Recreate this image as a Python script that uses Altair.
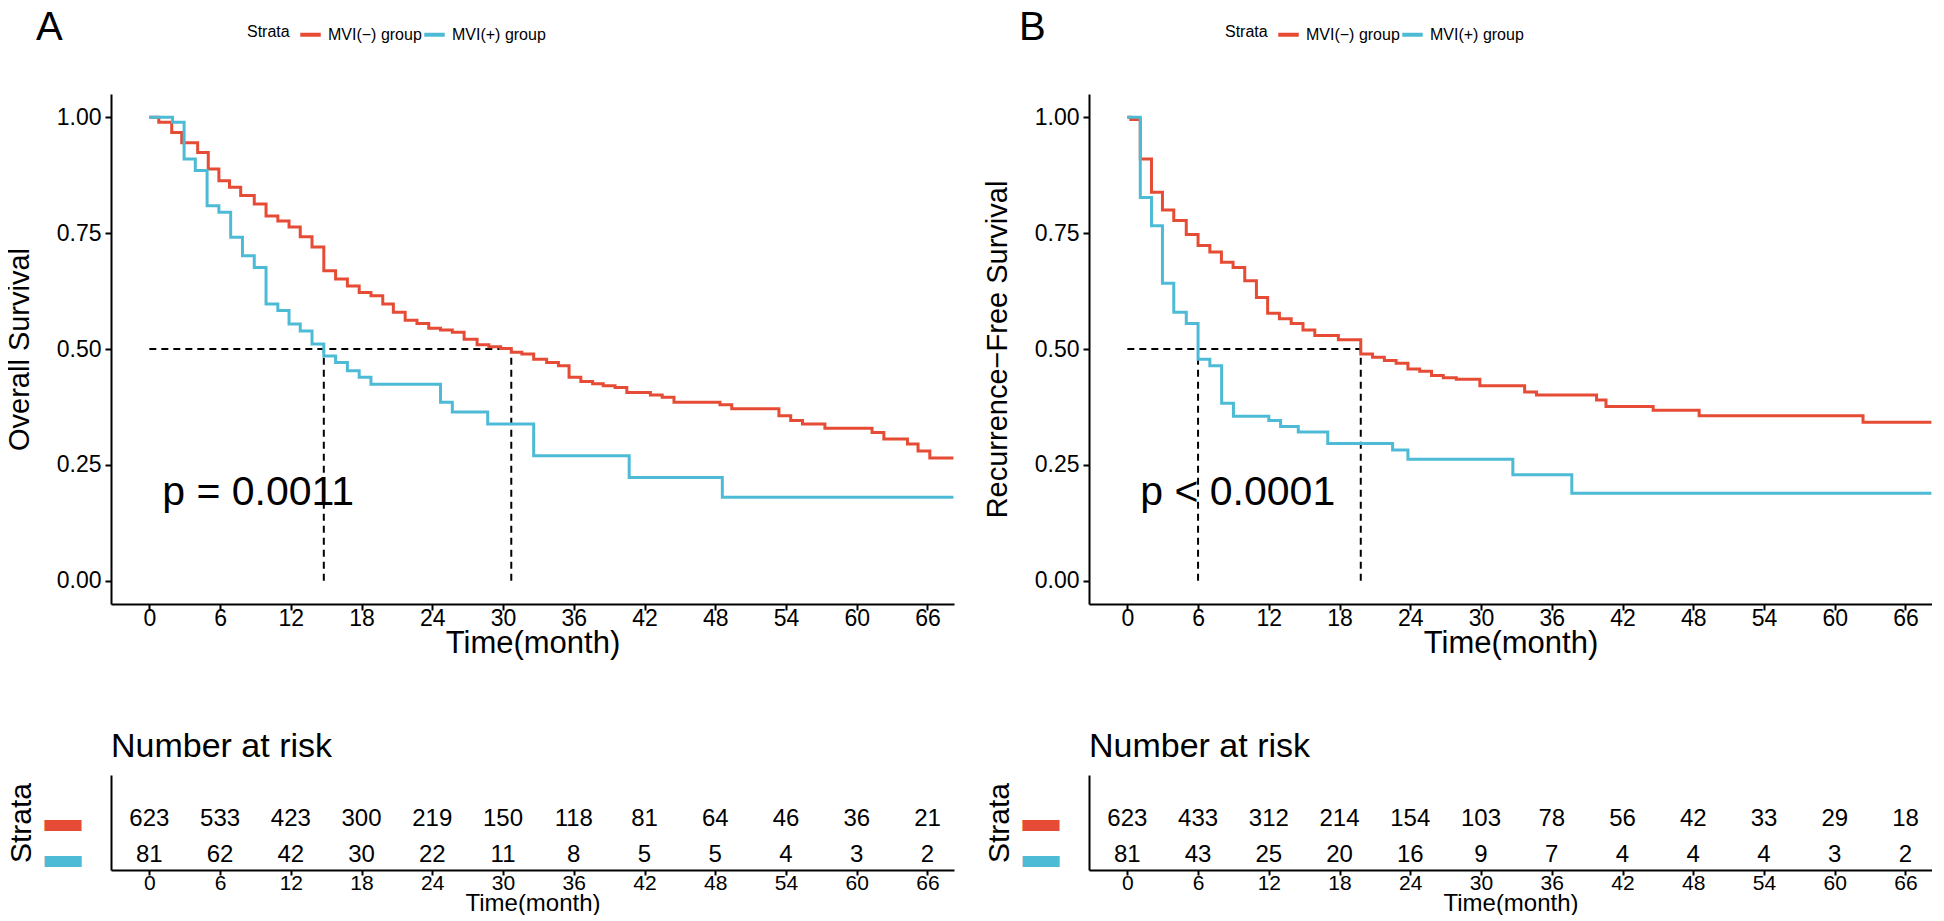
import altair as alt
import pandas as pd

GROUPS = ["MVI(−) group", "MVI(+) group"]
COLORS = ["#E64B35", "#4DBBD5"]
TICKS = [0, 6, 12, 18, 24, 30, 36, 42, 48, 54, 60, 66]
XDOM = [-3.25, 68.25]
FONT = "Liberation Sans"

# ---- Panel A: Overall survival ----
os_neg_t = [0, 0.8, 1.9, 2.75, 4.1, 5.0, 5.9, 6.8, 7.75, 8.9, 9.9, 10.9, 11.85, 12.8, 13.8,
            14.8, 15.8, 16.8, 17.8, 18.8, 19.8, 20.7, 21.7, 22.7, 23.7, 24.7, 25.7, 26.7,
            27.8, 28.8, 29.8, 30.7, 31.6, 32.6, 33.7, 34.7, 35.6, 36.6, 37.6, 38.5, 39.5,
            40.5, 42.5, 43.5, 44.5, 48.4, 49.4, 53.4, 54.4, 55.4, 57.3, 61.3, 62.3, 64.3,
            65.2, 66.2, 68.2]
os_neg_s = [1.0, 0.989, 0.967, 0.945, 0.924, 0.888, 0.863, 0.849, 0.831, 0.813, 0.787, 0.776,
            0.763, 0.742, 0.720, 0.669, 0.651, 0.636, 0.622, 0.615, 0.597, 0.579, 0.562, 0.555,
            0.545, 0.541, 0.536, 0.521, 0.509, 0.505, 0.501, 0.493, 0.489, 0.478, 0.471, 0.464,
            0.439, 0.430, 0.425, 0.421, 0.417, 0.406, 0.401, 0.396, 0.385, 0.380, 0.371, 0.356,
            0.346, 0.338, 0.329, 0.320, 0.306, 0.295, 0.280, 0.265, 0.265]
os_pos_t = [0, 1.97, 2.95, 3.9, 4.9, 5.9, 6.9, 7.9, 8.9, 9.9, 10.9, 11.85, 12.8, 13.8, 14.8,
            15.8, 16.8, 17.8, 18.8, 24.7, 25.7, 28.7, 32.6, 40.7, 48.6, 68.2]
os_pos_s = [1.0, 0.989, 0.910, 0.885, 0.809, 0.795, 0.741, 0.701, 0.676, 0.597, 0.583, 0.554,
            0.539, 0.511, 0.485, 0.471, 0.453, 0.439, 0.424, 0.385, 0.364, 0.338, 0.270, 0.223,
            0.180, 0.180]
os_medians = [14.8, 30.7]
os_risk_neg = [623, 533, 423, 300, 219, 150, 118, 81, 64, 46, 36, 21]
os_risk_pos = [81, 62, 42, 30, 22, 11, 8, 5, 5, 4, 3, 2]

# ---- Panel B: Recurrence-free survival ----
rfs_neg_t = [0, 0.3, 1.1, 2.05, 2.98, 3.94, 5.0, 6.0, 7.0, 7.98, 8.97, 9.96, 10.95, 11.9, 12.9,
             13.9, 14.9, 15.9, 17.9, 19.8, 20.8, 21.8, 22.8, 23.8, 24.8, 25.8, 26.8, 27.9, 29.9,
             33.7, 34.7, 39.8, 40.6, 44.6, 48.5, 62.4, 68.2]
rfs_neg_s = [1.0, 0.995, 0.910, 0.838, 0.800, 0.777, 0.747, 0.723, 0.709, 0.687, 0.676, 0.647,
             0.611, 0.577, 0.565, 0.555, 0.541, 0.529, 0.520, 0.489, 0.482, 0.475, 0.469, 0.457,
             0.452, 0.443, 0.438, 0.435, 0.421, 0.407, 0.401, 0.390, 0.376, 0.368, 0.356, 0.342,
             0.342]
rfs_pos_t = [0, 1.1, 2.05, 2.98, 3.94, 5.0, 6.0, 7.0, 8.0, 9.0, 12.0, 13.0, 14.5, 17.0, 22.5,
             23.8, 32.7, 37.7, 68.2]
rfs_pos_s = [1.0, 0.827, 0.766, 0.642, 0.579, 0.555, 0.478, 0.464, 0.383, 0.355, 0.346, 0.333,
             0.321, 0.296, 0.282, 0.262, 0.229, 0.189, 0.189]
rfs_medians = [6.0, 19.8]
rfs_risk_neg = [623, 433, 312, 214, 154, 103, 78, 56, 42, 33, 29, 18]
rfs_risk_pos = [81, 43, 25, 20, 16, 9, 7, 4, 4, 4, 3, 2]

PVAL_X, PVAL_Y = 1.1, 0.19

AX = dict(domainColor="black", domainWidth=2, tickColor="black", tickWidth=2,
          labelColor="black", titleColor="black", titleFontWeight="normal", grid=False,
          labelFont=FONT, titleFont=FONT)


def x_axis(tick_size, label_size, label_pad, title_size, title_pad):
    return alt.Axis(values=TICKS, title="Time(month)", tickSize=tick_size,
                    labelFontSize=label_size, titleFontSize=title_size,
                    labelPadding=label_pad, titlePadding=title_pad, **AX)


def km_chart(letter, letter_dx, ytitle, nt, ns, pt, ps, medians, ptext):
    df = pd.DataFrame({
        "time": nt + pt,
        "surv": ns + ps,
        "group": [GROUPS[0]] * len(nt) + [GROUPS[1]] * len(pt),
    })
    xs = alt.Scale(domain=XDOM, nice=False, zero=False)
    ys = alt.Scale(domain=[-0.05, 1.05], nice=False, zero=False)
    yax = alt.Axis(values=[0, 0.25, 0.5, 0.75, 1.0], format=".2f", title=ytitle, tickSize=6,
                   labelFontSize=23, titleFontSize=29, labelPadding=4, titlePadding=22, **AX)
    lines = alt.Chart(df).mark_line(interpolate="step-after", strokeWidth=3, clip=True).encode(
        x=alt.X("time:Q", scale=xs, axis=x_axis(6, 23, -3, 31, -2)),
        y=alt.Y("surv:Q", scale=ys, axis=yax),
        color=alt.Color("group:N", scale=alt.Scale(domain=GROUPS, range=COLORS),
                        legend=alt.Legend(orient="none", legendX=136, legendY=-72,
                                          direction="horizontal", title="Strata",
                                          titleOrient="left", titleFontSize=16,
                                          titleFontWeight="normal", labelFontSize=16,
                                          titleFont=FONT, labelFont=FONT,
                                          titleColor="black", labelColor="black",
                                          symbolType="stroke", symbolStrokeWidth=4,
                                          symbolSize=420, columnPadding=-6, labelOffset=5,
                                          titlePadding=8, titleBaseline="middle")),
        detail="group:N",
    )
    hl = pd.DataFrame({"x0": [0.0], "x1": [max(medians)], "y": [0.5]})
    hline = alt.Chart(hl).mark_rule(strokeDash=[7, 5], strokeWidth=2, color="black").encode(
        x=alt.X("x0:Q", scale=xs), x2="x1:Q", y=alt.Y("y:Q", scale=ys))
    vl = pd.DataFrame({"m": medians, "y0": [0.0] * len(medians), "y1": [0.5] * len(medians)})
    vlines = alt.Chart(vl).mark_rule(strokeDash=[7, 5], strokeWidth=2, color="black").encode(
        x=alt.X("m:Q", scale=xs), y=alt.Y("y0:Q", scale=ys), y2="y1:Q")
    pt_df = pd.DataFrame({"x": [PVAL_X], "y": [PVAL_Y], "t": [ptext]})
    ptxt = alt.Chart(pt_df).mark_text(align="left", baseline="middle", fontSize=41, font=FONT,
                                      color="black").encode(
        x=alt.X("x:Q", scale=xs), y=alt.Y("y:Q", scale=ys), text="t:N")
    return alt.layer(hline, vlines, lines, ptxt).properties(
        width=843, height=510,
        title=alt.TitleParams(letter, anchor="start", frame="group", fontSize=40,
                              fontWeight="normal", font=FONT, color="black", dx=letter_dx,
                              offset=46),
    )


def risk_chart(neg, pos):
    df = pd.DataFrame({
        "time": TICKS + TICKS,
        "group": [GROUPS[0]] * len(TICKS) + [GROUPS[1]] * len(TICKS),
        "n": neg + pos,
    })
    xs = alt.Scale(domain=XDOM, nice=False, zero=False)
    yax = alt.Axis(title="Strata", labelExpr="'▬'", labelFontSize=37, ticks=False,
                   labelPadding=30, titleFontSize=30, titlePadding=8,
                   labelColor={"condition": {"test": f"datum.value == '{GROUPS[0]}'",
                                             "value": COLORS[0]}, "value": COLORS[1]},
                   domainColor="black", domainWidth=2, titleColor="black",
                   titleFontWeight="normal", grid=False, labelFont=FONT, titleFont=FONT)
    return alt.Chart(df).mark_text(fontSize=24, font=FONT, color="black").encode(
        x=alt.X("time:Q", scale=xs, axis=x_axis(5, 21, -3, 24, -2)),
        y=alt.Y("group:N", scale=alt.Scale(domain=GROUPS, type="point", padding=0.82,
                                           align=0.75), axis=yax),
        text="n:Q",
    ).properties(
        width=843, height=95,
        title=alt.TitleParams("Number at risk", anchor="start", frame="group", fontSize=34,
                              fontWeight="normal", font=FONT, color="black", offset=11),
    )


panelA = alt.vconcat(
    km_chart("A", -75, "Overall Survival", os_neg_t, os_neg_s, os_pos_t, os_pos_s,
             os_medians, "p = 0.0011"),
    risk_chart(os_risk_neg, os_risk_pos),
    spacing=171, bounds="flush",
)
panelB = alt.vconcat(
    km_chart("B", -70, "Recurrence−Free Survival", rfs_neg_t, rfs_neg_s, rfs_pos_t,
             rfs_pos_s, rfs_medians, "p < 0.0001"),
    risk_chart(rfs_risk_neg, rfs_risk_pos),
    spacing=171, bounds="flush",
)

chart = alt.hconcat(panelA, panelB, spacing=978, bounds="flush").resolve_scale(
    color="independent"
).properties(padding={"left": -3, "top": 0, "right": 0, "bottom": 0},
            background="white").configure_view(stroke=None)

chart.save("out.html", embed_options={"renderer": "svg", "actions": False})
